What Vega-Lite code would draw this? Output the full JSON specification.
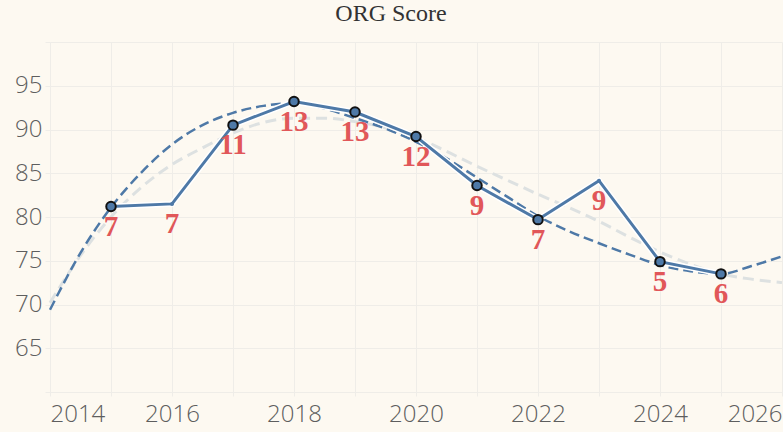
{
  "$schema": "https://vega.github.io/schema/vega-lite/v6.json",
  "width": 732,
  "height": 350,
  "autosize": "none",
  "padding": {"left": 50, "top": 42, "right": 1, "bottom": 40},
  "background": "#fdf9f1",
  "config": {
    "view": {"stroke": null, "fill": "#fdf9f1"},
    "axis": {
      "gridColor": "#efede8",
      "gridWidth": 1,
      "tickColor": "#efede8",
      "domainColor": "#efede8",
      "labelFont": "Open Sans",
      "labelFontWeight": 300,
      "labelFontSize": 24,
      "labelColor": "#5e5e5e",
      "title": null
    }
  },
  "title": {
    "text": "ORG Score",
    "font": "Liberation Serif",
    "fontSize": 24,
    "fontWeight": "normal",
    "color": "#333333",
    "anchor": "middle",
    "baseline": "bottom",
    "offset": 14,
    "dx": -25,
    "dy": 22
  },
  "datasets": {
    "scores": [
      {"year": 2015, "value": 81.2, "rank": 7, "marked": true},
      {"year": 2016, "value": 81.5, "rank": 7, "marked": false},
      {"year": 2017, "value": 90.5, "rank": 11, "marked": true},
      {"year": 2018, "value": 93.2, "rank": 13, "marked": true},
      {"year": 2019, "value": 92.0, "rank": 13, "marked": true},
      {"year": 2020, "value": 89.2, "rank": 12, "marked": true},
      {"year": 2021, "value": 83.6, "rank": 9, "marked": true},
      {"year": 2022, "value": 79.7, "rank": 7, "marked": true},
      {"year": 2023, "value": 84.15, "rank": 9, "marked": false},
      {"year": 2024, "value": 74.9, "rank": 5, "marked": true},
      {"year": 2025, "value": 73.5, "rank": 6, "marked": true}
    ],
    "trends": [
      {"year": 2014, "value": 69.4, "series": "fit"},
      {"year": 2014.5, "value": 75.9, "series": "fit"},
      {"year": 2015, "value": 81.1, "series": "fit"},
      {"year": 2015.5, "value": 85.1, "series": "fit"},
      {"year": 2016, "value": 88.3, "series": "fit"},
      {"year": 2016.5, "value": 90.5, "series": "fit"},
      {"year": 2017, "value": 91.9, "series": "fit"},
      {"year": 2017.5, "value": 92.7, "series": "fit"},
      {"year": 2018, "value": 93.0, "series": "fit"},
      {"year": 2018.5, "value": 92.4, "series": "fit"},
      {"year": 2019, "value": 91.3, "series": "fit"},
      {"year": 2019.5, "value": 90.1, "series": "fit"},
      {"year": 2020, "value": 88.6, "series": "fit"},
      {"year": 2020.5, "value": 86.7, "series": "fit"},
      {"year": 2021, "value": 84.5, "series": "fit"},
      {"year": 2021.5, "value": 82.3, "series": "fit"},
      {"year": 2022, "value": 80.1, "series": "fit"},
      {"year": 2022.5, "value": 78.4, "series": "fit"},
      {"year": 2023, "value": 77.0, "series": "fit"},
      {"year": 2023.5, "value": 75.7, "series": "fit"},
      {"year": 2024, "value": 74.5, "series": "fit"},
      {"year": 2024.5, "value": 73.8, "series": "fit"},
      {"year": 2025, "value": 73.5, "series": "fit"},
      {"year": 2025.5, "value": 74.4, "series": "fit"},
      {"year": 2026, "value": 75.5, "series": "fit"},
      {"year": 2014, "value": 70.2, "series": "smooth"},
      {"year": 2014.5, "value": 75.6, "series": "smooth"},
      {"year": 2015, "value": 80.0, "series": "smooth"},
      {"year": 2015.5, "value": 83.4, "series": "smooth"},
      {"year": 2016, "value": 86.0, "series": "smooth"},
      {"year": 2016.5, "value": 87.9, "series": "smooth"},
      {"year": 2017, "value": 89.6, "series": "smooth"},
      {"year": 2017.5, "value": 90.8, "series": "smooth"},
      {"year": 2018, "value": 91.3, "series": "smooth"},
      {"year": 2018.5, "value": 91.3, "series": "smooth"},
      {"year": 2019, "value": 90.9, "series": "smooth"},
      {"year": 2019.5, "value": 90.2, "series": "smooth"},
      {"year": 2020, "value": 89.1, "series": "smooth"},
      {"year": 2020.5, "value": 87.5, "series": "smooth"},
      {"year": 2021, "value": 85.8, "series": "smooth"},
      {"year": 2021.5, "value": 84.2, "series": "smooth"},
      {"year": 2022, "value": 82.6, "series": "smooth"},
      {"year": 2022.5, "value": 81.1, "series": "smooth"},
      {"year": 2023, "value": 79.5, "series": "smooth"},
      {"year": 2023.5, "value": 77.7, "series": "smooth"},
      {"year": 2024, "value": 76.0, "series": "smooth"},
      {"year": 2024.5, "value": 74.6, "series": "smooth"},
      {"year": 2025, "value": 73.5, "series": "smooth"},
      {"year": 2025.5, "value": 72.9, "series": "smooth"},
      {"year": 2026, "value": 72.5, "series": "smooth"}
    ]
  },
  "encoding": {
    "x": {
      "field": "year",
      "type": "quantitative",
      "scale": {"domain": [2014, 2026], "nice": false, "zero": false},
      "axis": {
        "values": [2014, 2015, 2016, 2017, 2018, 2019, 2020, 2021, 2022, 2023, 2024, 2025, 2026],
        "format": "d",
        "labelExpr": "datum.value % 2 == 0 ? datum.label : ''",
        "labelFlush": true,
        "labelOverlap": false,
        "tickSize": 4,
        "labelPadding": 6,
        "grid": true
      }
    },
    "y": {
      "field": "value",
      "type": "quantitative",
      "scale": {"domain": [60, 100], "nice": false, "zero": false},
      "axis": {
        "values": [60, 65, 70, 75, 80, 85, 90, 95, 100],
        "labelExpr": "datum.value == 60 || datum.value == 100 ? '' : datum.label",
        "domain": false,
        "tickSize": 5,
        "labelPadding": 3,
        "grid": true
      }
    }
  },
  "layer": [
    {
      "data": {"name": "trends"},
      "transform": [{"filter": "datum.series == 'smooth'"}],
      "mark": {"type": "line", "interpolate": "monotone", "color": "#dde1e1", "strokeWidth": 3, "strokeDash": [11, 6]}
    },
    {
      "data": {"name": "trends"},
      "transform": [{"filter": "datum.series == 'fit'"}],
      "mark": {"type": "line", "interpolate": "monotone", "color": "#4e79a7", "strokeWidth": 2.5, "strokeDash": [10, 5]}
    },
    {
      "data": {"name": "scores"},
      "mark": {"type": "line", "color": "#ffffff", "strokeWidth": 6}
    },
    {
      "data": {"name": "scores"},
      "mark": {"type": "line", "color": "#4e79a7", "strokeWidth": 3}
    },
    {
      "data": {"name": "scores"},
      "transform": [{"filter": "!datum.marked"}],
      "mark": {"type": "point", "filled": true, "color": "#4e79a7", "size": 16, "opacity": 1}
    },
    {
      "data": {"name": "scores"},
      "transform": [{"filter": "datum.marked"}],
      "mark": {"type": "point", "filled": true, "fill": "#4e79a7", "stroke": "#111111", "strokeWidth": 2, "size": 90, "opacity": 1}
    },
    {
      "data": {"name": "scores"},
      "mark": {"type": "text", "font": "Liberation Serif", "fontWeight": "bold", "fontSize": 29, "color": "#e15759", "baseline": "middle", "dy": 20},
      "encoding": {"text": {"field": "rank", "type": "quantitative"}}
    }
  ]
}
